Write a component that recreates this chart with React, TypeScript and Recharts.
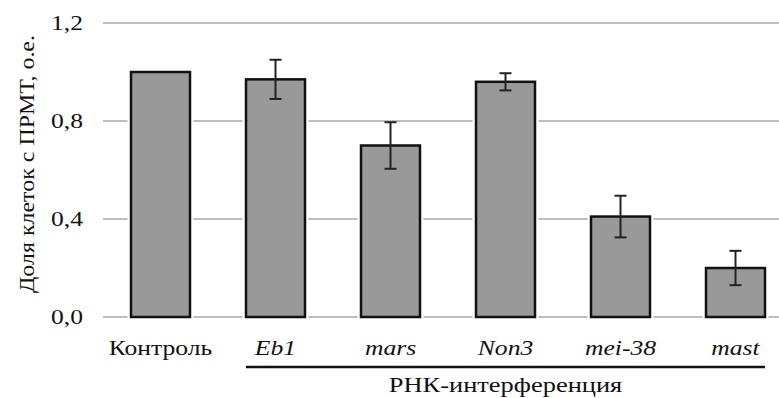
import { BarChart, Bar, XAxis, YAxis, CartesianGrid, ErrorBar } from 'recharts';

// values
const categories = ['Контроль', 'Eb1', 'mars', 'Non3', 'mei-38', 'mast'];
const shares = [1.0, 0.97, 0.7, 0.96, 0.41, 0.2];
const errors = [null, 0.08, 0.095, 0.035, 0.085, 0.07];
const yTicks = [0, 0.4, 0.8, 1.2];
const yTitle = 'Доля клеток с ПРМТ, о.е.';
const groupTitle = 'РНК-интерференция';

const data = categories.map((name, i) => ({ name, share: shares[i], err: errors[i] }));

const FONT = "'Liberation Serif', 'DejaVu Serif', 'Noto Serif', serif";
const CHART_W = 785;
const CHART_H = 390;
const Y_AXIS_W = 95;
const BAR_SIZE = 59;
const STEP = (CHART_W - Y_AXIS_W) / categories.length;
// the original lettering is a wide serif face, stretch the text sideways a bit
const STRETCH = 1.22;
const textStyle = { fontFamily: FONT, fontSize: 21 };

const BarShape = (props: any) => {
  const { x, y, width, height } = props;
  return (
    <g>
      <rect x={x} y={y} width={width} height={height} fill='none' stroke='#fff' strokeWidth={7} />
      <rect x={x} y={y} width={width} height={height} fill='#999' stroke='#111' strokeWidth={2.5} />
    </g>
  );
};

const XTick = (props: any) => {
  const { x, y, payload, index } = props;
  const italic = index > 0;
  return (
    <g>
      <text
        transform={`translate(${x}, ${y + 30}) scale(${STRETCH}, 1)`}
        textAnchor='middle'
        style={{ ...textStyle, fontStyle: italic ? 'italic' : 'normal' }}
        fill='#111'
      >
        {payload.value}
      </text>
      {index === 1 && (
        <g>
          <line
            x1={x - BAR_SIZE / 2}
            x2={x + 4 * STEP + BAR_SIZE / 2}
            y1={y + 42}
            y2={y + 42}
            stroke='#111'
            strokeWidth={2.5}
          />
          <text
            transform={`translate(${x + 2 * STEP}, ${y + 67}) scale(1.26, 1)`}
            textAnchor='middle'
            style={textStyle}
            fill='#111'
          >
            {groupTitle}
          </text>
        </g>
      )}
    </g>
  );
};

const YTick = (props: any) => {
  const { x, y, payload } = props;
  return (
    <text
      transform={`translate(${x}, ${y + 7}) scale(${STRETCH}, 1)`}
      textAnchor='end'
      style={textStyle}
      fill='#111'
    >
      {payload.value.toFixed(1).replace('.', ',')}
    </text>
  );
};

const YTitle = (props: any) => {
  const { viewBox } = props;
  const cx = 19;
  const cy = viewBox.y + viewBox.height / 2 - 6;
  return (
    <text
      transform={`translate(${cx}, ${cy}) rotate(-90) scale(1.14, 1)`}
      textAnchor='middle'
      dominantBaseline='central'
      style={textStyle}
      fill='#111'
    >
      {yTitle}
    </text>
  );
};

export default function App() {
  return (
    <div
      style={{
        position: 'absolute',
        top: 8,
        left: 8,
        width: 771,
        height: CHART_H,
        overflow: 'hidden',
        background: '#fff',
      }}
    >
      <BarChart
        width={CHART_W}
        height={CHART_H}
        data={data}
        margin={{ top: 15, right: 0, left: 0, bottom: 41 }}
        barSize={BAR_SIZE}
      >
        <CartesianGrid vertical={false} stroke='#bdbdbd' strokeWidth={2} />
        <XAxis
          dataKey='name'
          axisLine={false}
          tickLine={false}
          interval={0}
          height={40}
          tick={<XTick />}
        />
        <YAxis
          width={Y_AXIS_W}
          domain={[0, 1.2]}
          ticks={yTicks}
          axisLine={false}
          tickLine={false}
          tickMargin={14}
          tick={<YTick />}
          label={<YTitle />}
        />
        <Bar dataKey='share' shape={<BarShape />} isAnimationActive={false}>
          <ErrorBar dataKey='err' width={6} stroke='#222' strokeWidth={2} />
        </Bar>
      </BarChart>
    </div>
  );
}
